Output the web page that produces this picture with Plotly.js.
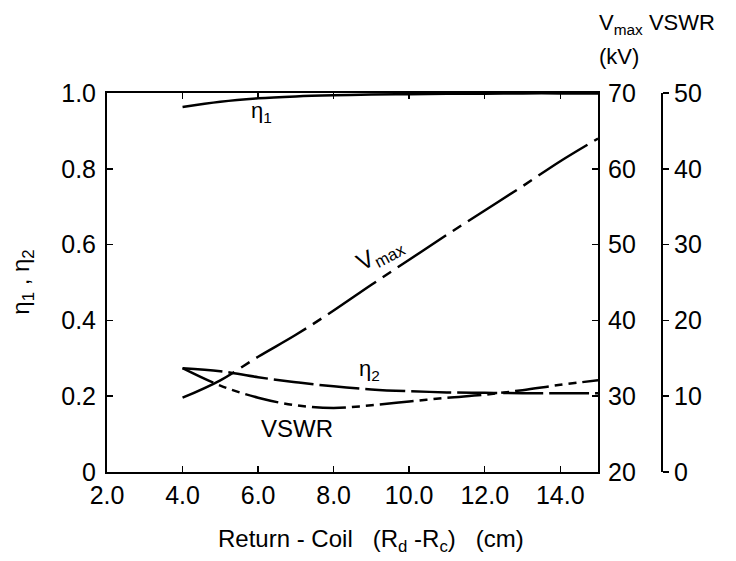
<!DOCTYPE html>
<html>
<head>
<meta charset="utf-8">
<script src="https://cdn.plot.ly/plotly-3.0.1.min.js"></script>
<style>html,body{margin:0;padding:0;background:#fff;}</style>
</head>
<body>
<div id="chart" style="width:736px;height:561px;"></div>
<script>
// Return-coil spacing (cm)
var xCm = [4, 5, 6, 7, 8, 9, 10, 11, 12, 13, 14, 15];
// efficiencies (left axis)
var eta1 = [0.963, 0.977, 0.986, 0.991, 0.994, 0.996, 0.997, 0.998, 0.998, 0.999, 0.999, 0.999];
var eta2 = [0.274, 0.266, 0.250, 0.237, 0.226, 0.218, 0.213, 0.210, 0.209, 0.208, 0.208, 0.208];
// Vmax (kV) on first right axis
var vmax = [29.8, 32.1, 35.2, 38.1, 41.3, 44.7, 48.0, 51.3, 54.5, 57.7, 61.0, 64.0];
// VSWR on second right axis
var vswr = [13.7, 11.4, 9.8, 8.8, 8.45, 8.8, 9.3, 9.8, 10.2, 10.8, 11.5, 12.1];

var xTicks = [2, 4, 6, 8, 10, 12, 14];
var xTickText = ['2.0', '4.0', '6.0', '8.0', '10.0', '12.0', '14.0'];
var yTicks = [0, 0.2, 0.4, 0.6, 0.8, 1.0];
var yTickText = ['0', '0.2', '0.4', '0.6', '0.8', '1.0'];
var vTicks = [20, 30, 40, 50, 60, 70];
var sTicks = [0, 10, 20, 30, 40, 50];

var FONT = 'Liberation Sans, Arial, sans-serif';
var K = '#000';

var traces = [
  {x: xCm, y: eta1, yaxis: 'y', mode: 'lines', line: {color: K, width: 2.5, shape: 'spline'}, name: 'η1'},
  {x: xCm, y: eta2, yaxis: 'y', mode: 'lines', line: {color: K, width: 2.5, shape: 'spline', dash: '40px,6px'}, name: 'η2'},
  {x: xCm, y: vmax, yaxis: 'y2', mode: 'lines', line: {color: K, width: 2.5, shape: 'spline', dash: '58px,8px,10px,8px'}, name: 'Vmax'},
  {x: xCm, y: vswr, yaxis: 'y3', mode: 'lines', line: {color: K, width: 2.5, shape: 'spline', dash: '34px,6px,8px,6px,8px,6px'}, name: 'VSWR'}
];

var layout = {
  width: 736, height: 561,
  margin: {l: 107, r: 56, t: 93, b: 89},
  paper_bgcolor: '#fff', plot_bgcolor: '#fff',
  showlegend: false,
  font: {family: FONT, size: 25, color: K},
  xaxis: {
    domain: [0, 0.857],
    range: [2, 15], tickvals: xTicks, ticktext: xTickText,
    ticks: 'inside', ticklen: 6, tickwidth: 1.5, tickcolor: K,
    showline: true, linewidth: 2, linecolor: K, mirror: 'ticks',
    showgrid: false, zeroline: false,
    tickfont: {family: FONT, size: 25, color: K}
  },
  yaxis: {
    range: [0, 1.0], tickvals: yTicks, ticktext: yTickText,
    ticks: 'inside', ticklen: 6, tickwidth: 1.5, tickcolor: K,
    showline: true, linewidth: 2, linecolor: K, mirror: true,
    showgrid: false, zeroline: false, ticklabelstandoff: 4,
    tickfont: {family: FONT, size: 25, color: K}
  },
  yaxis2: {
    overlaying: 'y', side: 'right', anchor: 'x',
    range: [20, 70], tickvals: vTicks,
    ticks: 'inside', ticklen: 6, tickwidth: 1.5, tickcolor: K,
    showline: false, showgrid: false, zeroline: false, ticklabelstandoff: 9,
    tickfont: {family: FONT, size: 25, color: K}
  },
  yaxis3: {
    overlaying: 'y', side: 'right', anchor: 'free', position: 0.9686,
    range: [0, 50], tickvals: sTicks,
    ticks: 'outside', ticklen: 6, tickwidth: 1.5, tickcolor: K,
    showline: true, linewidth: 2, linecolor: K,
    showgrid: false, zeroline: false,
    tickfont: {family: FONT, size: 25, color: K}
  },
  annotations: [
    {xref: 'x', yref: 'y', x: 6.1, y: 1.053, text: 'Center - Feed', showarrow: false, font: {size: 24}},
    {xref: 'x', yref: 'y', x: 10.78, y: 1.053, text: '(0 , 0)', showarrow: false, font: {size: 24}},
    {xref: 'paper', yref: 'paper', x: 0.855, y: 1.182, xanchor: 'left', yanchor: 'middle', text: 'V<sub>max</sub> VSWR', showarrow: false, font: {size: 22}},
    {xref: 'paper', yref: 'paper', x: 0.855, y: 1.095, xanchor: 'left', yanchor: 'middle', text: '(kV)', showarrow: false, font: {size: 22}},
    {xref: 'x', yref: 'y', x: 6.1, y: 0.95, text: 'η<sub>1</sub>', showarrow: false, font: {size: 22}},
    {xref: 'x', yref: 'y', x: 8.95, y: 0.27, text: 'η<sub>2</sub>', showarrow: false, font: {size: 22}},
    {xref: 'x', yref: 'y', x: 9.22, y: 0.575, text: 'V<sub>max</sub>', textangle: -28, showarrow: false, font: {size: 24}},
    {xref: 'x', yref: 'y', x: 7.02, y: 0.116, text: 'VSWR', showarrow: false, font: {size: 24}},
    {xref: 'paper', yref: 'paper', x: -0.148, y: 0.5, xanchor: 'center', yanchor: 'middle', text: 'η<sub>1</sub> , η<sub>2</sub>', textangle: -90, showarrow: false, font: {size: 24}},
    {xref: 'paper', yref: 'paper', x: 0.46, y: -0.18, yanchor: 'middle', text: 'Return - Coil   (R<sub>d</sub> -R<sub>c</sub>)   (cm)', showarrow: false, font: {size: 24}}
  ]
};

Plotly.newPlot('chart', traces, layout, {displayModeBar: false, staticPlot: true});
</script>
</body>
</html>
